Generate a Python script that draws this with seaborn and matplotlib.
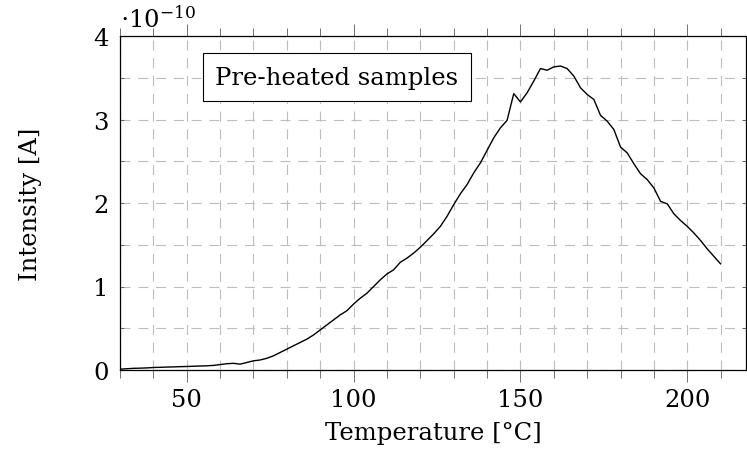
import numpy as np
import pandas as pd
import matplotlib
matplotlib.use("Agg")
import matplotlib.pyplot as plt
import seaborn as sns
from matplotlib.ticker import FixedLocator, MultipleLocator

# ---- data (intensity in units of 1e-10 A) ----
temperature = list(range(30, 212, 2))
intensity = [
    0.01, 0.015, 0.02, 0.022, 0.025, 0.03, 0.032, 0.035, 0.037, 0.04,   # 30-48
    0.042, 0.045, 0.048, 0.05, 0.055, 0.065, 0.075, 0.08, 0.07, 0.09,   # 50-68
    0.11, 0.12, 0.14, 0.17, 0.21, 0.25, 0.29, 0.33, 0.37, 0.42,         # 70-88
    0.48, 0.54, 0.60, 0.66, 0.71, 0.79, 0.86, 0.92, 1.00, 1.08,         # 90-108
    1.15, 1.20, 1.29, 1.34, 1.40, 1.47, 1.55, 1.63, 1.72, 1.84,         # 110-128
    1.98, 2.11, 2.22, 2.36, 2.48, 2.63, 2.78, 2.90, 2.99, 3.31,         # 130-148
    3.21, 3.32, 3.46, 3.61, 3.59, 3.63, 3.64, 3.61, 3.52, 3.38,         # 150-168
    3.30, 3.24, 3.05, 2.98, 2.88, 2.67, 2.60, 2.47, 2.35, 2.28,         # 170-188
    2.18, 2.02, 1.99, 1.87, 1.79, 1.72, 1.64, 1.55, 1.45, 1.36,         # 190-208
    1.27,                                                               # 210
]
x_major_ticks = [50, 100, 150, 200]
y_major_ticks = [0, 1, 2, 3, 4]
x_label = "Temperature [°C]"
y_label = "Intensity [A]"
scale_label = r"$\cdot 10^{-10}$"
box_label = "Pre-heated samples"

df = pd.DataFrame({"Temperature": temperature, "Intensity": intensity})

sns.set_theme(style="white")
plt.rcParams["font.family"] = ["DejaVu Serif"]
plt.rcParams["mathtext.fontset"] = "dejavuserif"
plt.rcParams["text.color"] = "black"
plt.rcParams["axes.labelcolor"] = "black"
plt.rcParams["xtick.labelcolor"] = "black"
plt.rcParams["ytick.labelcolor"] = "black"
FS = 17.5

fig = plt.figure(figsize=(7.47, 4.56), dpi=100)
ax = fig.add_axes([120 / 747, (456 - 371) / 456, 626 / 747, 334 / 456])

sns.lineplot(data=df, x="Temperature", y="Intensity", ax=ax, color="black",
             linewidth=1.0, zorder=3)

ax.set_xlim(30, 217.6)
ax.set_ylim(0, 4)

ax.xaxis.set_major_locator(FixedLocator(x_major_ticks))
ax.xaxis.set_minor_locator(MultipleLocator(10))
ax.yaxis.set_major_locator(FixedLocator(y_major_ticks))
ax.yaxis.set_minor_locator(MultipleLocator(0.5))

grid_kw = dict(color="#bdbdbd", linestyle=(0, (9, 7)), linewidth=0.8)
ax.grid(True, which="both", axis="both", **grid_kw)
ax.set_axisbelow(True)

for s in ax.spines.values():
    s.set_color("black")
    s.set_linewidth(0.9)
    s.set_visible(True)

ax.tick_params(axis="x", which="major", direction="out", length=8.3, width=0.6,
               color="0.35", top=True, bottom=True, labelsize=FS, pad=5,
               labelcolor="black")
ax.tick_params(axis="x", which="minor", direction="out", length=5.8, width=0.6,
               color="0.35", top=True, bottom=True)
ax.tick_params(axis="y", which="both", direction="in", length=3, width=0.6,
               color="0.35", left=True, right=True, labelsize=FS, pad=8,
               labelcolor="black")

ax.set_xlabel(x_label, fontsize=FS, labelpad=7, color="black")
ax.set_ylabel(y_label, fontsize=FS, labelpad=37, color="black")

ax.text(0.0, 1.027, scale_label, transform=ax.transAxes, fontsize=FS,
        ha="left", va="baseline", color="black")

ax.text(0.3466, 0.877, box_label, transform=ax.transAxes, fontsize=FS,
        ha="center", va="center", zorder=4, color="black",
        bbox=dict(boxstyle="square,pad=0.5", facecolor="white",
                  edgecolor="black", linewidth=0.8))

fig.savefig("out.png", dpi=100)
